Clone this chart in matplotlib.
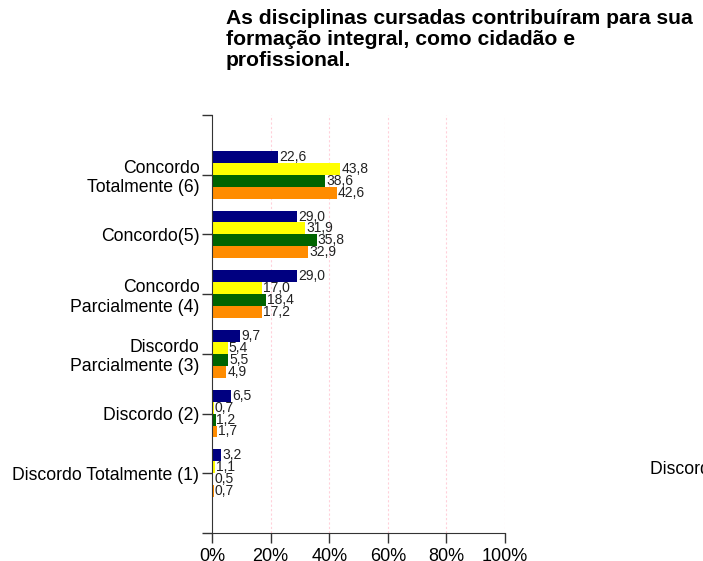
import matplotlib.pyplot as plt

plt.rcParams['font.family'] = ['Liberation Sans', 'DejaVu Sans']

categories = ['Concordo\nTotalmente (6)', 'Concordo(5)', 'Concordo\nParcialmente (4)',
              'Discordo\nParcialmente (3)', 'Discordo (2)', 'Discordo Totalmente (1)']
serie_a = [22.6, 29.0, 29.0, 9.7, 6.5, 3.2]
serie_b = [43.8, 31.9, 17.0, 5.4, 0.7, 1.1]
serie_c = [38.6, 35.8, 18.4, 5.5, 1.2, 0.5]
serie_d = [42.6, 32.9, 17.2, 4.9, 1.7, 0.7]
cores = ['#000080', '#ffff00', '#006400', '#ff8c00']
xticks = [0, 20, 40, 60, 80, 100]

fig = plt.figure(figsize=(7.03, 5.61), dpi=100)
ax = fig.add_axes([212/703, 1 - 533/561, (505 - 212)/703, (533 - 115)/561])

h = 0.2
series = [serie_a, serie_b, serie_c, serie_d]
for j, vals in enumerate(series):
    for i, v in enumerate(vals):
        y = (i + 1) - 0.4 + j * h + h / 2
        ax.barh(y, v, height=h, color=cores[j], edgecolor='none')
        ax.text(v + 0.3, y, ('%.1f' % v).replace('.', ','), va='center', ha='left',
                fontsize=10, color='#222222')

ax.set_ylim(7, 0)
ax.set_xlim(0, 100)
ax.set_yticks(range(0, 8))
ax.set_yticklabels([''] + categories + [''], fontsize=12.7)
ax.set_xticks(xticks)
ax.set_xticklabels(['%d%%' % x for x in xticks], fontsize=13)
ax.tick_params(axis='both', length=7, width=1, color='#333333')
ax.tick_params(axis='y', pad=2)
for x in xticks[1:]:
    ax.axvline(x, color='#ffd0da', lw=0.8, ls=(0, (2, 2)), zorder=0)
ax.spines['top'].set_visible(False)
ax.spines['right'].set_visible(False)
ax.spines['left'].set_color('#333333')
ax.spines['bottom'].set_color('#333333')

fig.text(226/703, 1 - 9/561, 'As disciplinas cursadas contribuíram para sua\nformação integral, como cidadão e\nprofissional.',
         fontsize=15.2, fontweight='bold', va='top', ha='left', linespacing=1.12)
fig.text(650/703, 1 - 470/561, 'Discordo Totalmente (1)', fontsize=12.7, va='center', ha='left')

fig.savefig('out.png', dpi=100)
